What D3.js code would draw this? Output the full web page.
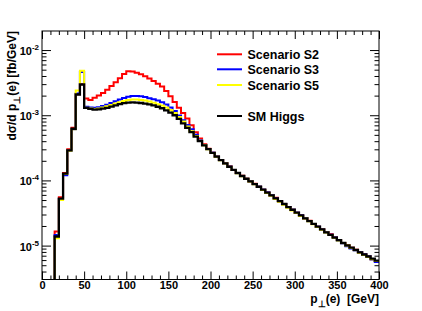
<!DOCTYPE html>
<html><head><meta charset="utf-8">
<script src="https://cdn.jsdelivr.net/npm/d3@7"></script>
<style>
body{margin:0;background:#fff}
svg{display:block}
text{font-family:"Liberation Sans",Arial,Helvetica,sans-serif}
</style>
</head><body>
<svg id="c" width="422" height="311"></svg>
<script>
// ---- data (bins of 5 GeV, low edges 15 .. 395) ----
const binLow = d3.range(15, 400, 5);
const binWidth = 5;

const sm = [
 1.38e-5, 5.25e-5, 1.27e-4, 2.9e-4, 6.2e-4, 2.08e-3, 2.96e-3,
 1.30e-3, 1.25e-3, 1.22e-3, 1.23e-3, 1.26e-3, 1.30e-3, 1.36e-3, 1.42e-3, 1.48e-3, 1.53e-3,
 1.56e-3, 1.57e-3, 1.56e-3, 1.54e-3, 1.51e-3, 1.47e-3, 1.42e-3, 1.35e-3, 1.28e-3,
 1.19e-3, 1.10e-3, 1.0e-3, 8.8e-4, 7.5e-4, 6.4e-4, 5.5e-4, 4.7e-4, 4.0e-4, 3.45e-4, 3.02e-4,
 2.65e-4, 2.32e-4, 2.05e-4, 1.82e-4, 1.62e-4, 1.45e-4, 1.3e-4, 1.17e-4, 1.06e-4, 9.7e-5,
 8.8e-5, 8.0e-5, 7.2e-5, 6.5e-5, 5.9e-5, 5.3e-5, 4.8e-5, 4.35e-5, 3.9e-5, 3.55e-5,
 3.2e-5, 2.9e-5, 2.62e-5, 2.38e-5, 2.15e-5, 1.95e-5, 1.77e-5, 1.6e-5, 1.46e-5, 1.33e-5,
 1.21e-5, 1.1e-5, 1.01e-5, 9.3e-6, 8.6e-6, 7.9e-6, 7.3e-6, 6.8e-6, 6.3e-6, 5.9e-6
];
const s2 = [
 1.65e-5, 5.5e-5, 1.3e-4, 3.0e-4, 6.4e-4, 2.1e-3, 3.0e-3,
 1.80e-3, 1.72e-3, 1.85e-3, 2.0e-3, 2.2e-3, 2.45e-3, 2.8e-3, 3.2e-3, 3.7e-3, 4.3e-3,
 4.75e-3, 4.7e-3, 4.5e-3, 4.25e-3, 3.95e-3, 3.65e-3, 3.35e-3, 3.05e-3, 2.75e-3,
 2.35e-3, 1.95e-3, 1.6e-3, 1.3e-3, 1.08e-3, 8.9e-4, 7.0e-4, 5.5e-4, 4.4e-4, 3.6e-4, 3.05e-4,
 2.66e-4, 2.33e-4, 2.06e-4, 1.83e-4, 1.63e-4, 1.45e-4, 1.3e-4, 1.18e-4, 1.06e-4, 9.7e-5,
 8.9e-5, 8.0e-5, 7.2e-5, 6.5e-5, 5.9e-5, 5.4e-5, 4.8e-5, 4.35e-5, 3.9e-5, 3.55e-5,
 3.2e-5, 2.9e-5, 2.62e-5, 2.4e-5, 2.15e-5, 1.95e-5, 1.78e-5, 1.62e-5, 1.49e-5, 1.36e-5,
 1.22e-5, 1.1e-5, 1.01e-5, 9.3e-6, 8.6e-6, 7.9e-6, 7.3e-6, 6.8e-6, 6.2e-6, 5.8e-6
];
const s3 = [
 1.45e-5, 5.2e-5, 1.2e-4, 2.85e-4, 6.1e-4, 2.15e-3, 4.6e-3,
 1.35e-3, 1.31e-3, 1.30e-3, 1.33e-3, 1.38e-3, 1.45e-3, 1.54e-3, 1.64e-3, 1.74e-3, 1.84e-3,
 1.92e-3, 1.97e-3, 1.98e-3, 1.95e-3, 1.90e-3, 1.83e-3, 1.76e-3, 1.68e-3, 1.58e-3,
 1.46e-3, 1.32e-3, 1.16e-3, 9.9e-4, 8.4e-4, 7.1e-4, 6.1e-4, 5.0e-4, 4.15e-4, 3.5e-4, 3.03e-4,
 2.65e-4, 2.32e-4, 2.05e-4, 1.82e-4, 1.62e-4, 1.45e-4, 1.3e-4, 1.17e-4, 1.05e-4, 9.7e-5,
 8.8e-5, 8.0e-5, 7.2e-5, 6.5e-5, 5.9e-5, 5.3e-5, 4.8e-5, 4.35e-5, 3.9e-5, 3.55e-5,
 3.2e-5, 2.9e-5, 2.62e-5, 2.38e-5, 2.15e-5, 1.95e-5, 1.77e-5, 1.6e-5, 1.47e-5, 1.34e-5,
 1.2e-5, 1.08e-5, 9.8e-6, 9.0e-6, 8.4e-6, 7.9e-6, 7.3e-6, 6.8e-6, 6.1e-6, 5.6e-6
];
const s5 = [
 1.3e-5, 5.0e-5, 1.25e-4, 2.85e-4, 6.1e-4, 2.4e-3, 4.8e-3,
 1.30e-3, 1.27e-3, 1.25e-3, 1.27e-3, 1.31e-3, 1.37e-3, 1.44e-3, 1.51e-3, 1.58e-3, 1.65e-3,
 1.71e-3, 1.74e-3, 1.74e-3, 1.72e-3, 1.68e-3, 1.62e-3, 1.55e-3, 1.48e-3, 1.41e-3,
 1.31e-3, 1.2e-3, 1.08e-3, 9.4e-4, 8.0e-4, 6.7e-4, 5.7e-4, 4.8e-4, 4.05e-4, 3.45e-4, 3.0e-4,
 2.63e-4, 2.3e-4, 2.04e-4, 1.81e-4, 1.61e-4, 1.44e-4, 1.29e-4, 1.16e-4, 1.05e-4, 9.6e-5,
 8.7e-5, 7.9e-5, 7.1e-5, 6.4e-5, 5.8e-5, 5.2e-5, 4.7e-5, 4.25e-5, 3.8e-5, 3.45e-5,
 3.15e-5, 2.85e-5, 2.6e-5, 2.36e-5, 2.13e-5, 1.93e-5, 1.75e-5, 1.59e-5, 1.45e-5, 1.32e-5,
 1.2e-5, 1.09e-5, 1.0e-5, 9.2e-6, 8.5e-6, 7.8e-6, 7.2e-6, 6.7e-6, 6.2e-6, 5.8e-6
];

const seriesNames = ["Scenario S2", "Scenario S3", "Scenario S5", "SM Higgs"];
const seriesValues = [s2, s3, s5, sm];
const seriesColors = ["#ff0000", "#0000ff", "#ffff00", "#000000"];

const xMajorTicks = [0, 50, 100, 150, 200, 250, 300, 350, 400];
const xMinorTicks = d3.range(0, 401, 10).filter(v => v % 50 !== 0);
const yMajorTicks = [1e-5, 1e-4, 1e-3, 1e-2];
const yMajorExp = ["-5", "-4", "-3", "-2"];

// ---- layout ----
const L = 42, R = 379, T = 31, B = 279.5;
const svg = d3.select("#c");
const x = d3.scaleLinear().domain([0, 400]).range([L, R]);
const y = d3.scaleLog().domain([3.02e-6, 0.0196]).range([B, T]);

const yMinorTicks = [];
for (let e = -6; e <= -2; e++) for (let m = 2; m <= 9; m++) {
  const v = m * Math.pow(10, e);
  if (v >= y.domain()[0] && v <= y.domain()[1]) yMinorTicks.push(v);
}

svg.append("clipPath").attr("id", "clip").append("rect")
  .attr("x", L).attr("y", T).attr("width", R - L).attr("height", B - T);

// histograms
const line = d3.line().x(d => x(d[0])).y(d => y(d[1])).curve(d3.curveStepAfter);
seriesValues.forEach((vals, i) => {
  const pts = [[binLow[0], y.domain()[0]]];
  vals.forEach((v, j) => pts.push([binLow[j], v]));
  pts.push([binLow[binLow.length - 1] + binWidth, vals[vals.length - 1]]);
  svg.append("path").attr("clip-path", "url(#clip)")
    .attr("d", line(pts)).attr("fill", "none")
    .attr("stroke", seriesColors[i])
    .attr("stroke-width", i === 3 ? 2.3 : 2)
    .attr("stroke-linejoin", "miter");
});

// axes
function styleAxis(g) {
  g.select(".domain").remove();
  g.selectAll(".tick line").attr("stroke", "#000").attr("stroke-width", 1);
  g.selectAll("text").attr("font-family", "Liberation Sans, Arial, sans-serif")
    .attr("font-size", 11).attr("font-weight", "bold").attr("fill", "#000");
}
svg.append("g").attr("transform", `translate(0,${B})`)
  .call(d3.axisBottom(x).tickValues(xMajorTicks).tickSize(-8).tickPadding(2).tickFormat(d3.format("d")))
  .call(styleAxis);
svg.append("g").attr("transform", `translate(0,${B})`)
  .call(d3.axisBottom(x).tickValues(xMinorTicks).tickSize(-4).tickFormat(""))
  .call(styleAxis);
svg.append("g").attr("transform", `translate(0,${T})`)
  .call(d3.axisTop(x).tickValues(xMajorTicks).tickSize(-8).tickFormat(""))
  .call(styleAxis);
svg.append("g").attr("transform", `translate(0,${T})`)
  .call(d3.axisTop(x).tickValues(xMinorTicks).tickSize(-4).tickFormat(""))
  .call(styleAxis);

svg.append("g").attr("transform", `translate(${L},0)`)
  .call(d3.axisLeft(y).tickValues(yMajorTicks).tickSize(-9).tickFormat(""))
  .call(styleAxis);
svg.append("g").attr("transform", `translate(${L},0)`)
  .call(d3.axisLeft(y).tickValues(yMinorTicks).tickSize(-4.5).tickFormat(""))
  .call(styleAxis);
svg.append("g").attr("transform", `translate(${R},0)`)
  .call(d3.axisRight(y).tickValues(yMajorTicks).tickSize(-9).tickFormat(""))
  .call(styleAxis);
svg.append("g").attr("transform", `translate(${R},0)`)
  .call(d3.axisRight(y).tickValues(yMinorTicks).tickSize(-4.5).tickFormat(""))
  .call(styleAxis);

// y labels 10^n
yMajorTicks.forEach((v, i) => {
  const t = svg.append("text").attr("x", 39).attr("y", y(v) + 5)
    .attr("text-anchor", "end").attr("font-size", 11).attr("font-weight", "bold");
  t.append("tspan").text("10");
  t.append("tspan").attr("dy", -5).attr("font-size", 8).text(yMajorExp[i]);
});

// frame
svg.append("rect").attr("x", L).attr("y", T).attr("width", R - L).attr("height", B - T)
  .attr("fill", "none").attr("stroke", "#000").attr("stroke-width", 1);

// axis titles
const xt = svg.append("text").attr("x", R).attr("y", 303).attr("text-anchor", "end")
  .attr("font-size", 12).attr("font-weight", "bold");
xt.append("tspan").text("p");
xt.append("tspan").attr("dy", 4).attr("font-size", 9).text("⊥");
xt.append("tspan").attr("dy", -4).text("(e)\u00a0\u00a0[GeV]");

const yt = svg.append("text").attr("transform", `translate(16,${T}) rotate(-90)`)
  .attr("text-anchor", "end").attr("font-size", 12).attr("font-weight", "bold");
yt.append("tspan").text("dσ/d p");
yt.append("tspan").attr("dy", 4).attr("font-size", 9).text("⊥");
yt.append("tspan").attr("dy", -4).text("(e) [fb/GeV]");

// legend
const legendY = [54.3, 69.3, 85, 116];
seriesNames.forEach((n, i) => {
  svg.append("line").attr("x1", 217).attr("x2", 242)
    .attr("y1", legendY[i]).attr("y2", legendY[i])
    .attr("stroke", seriesColors[i]).attr("stroke-width", 2);
  svg.append("text").attr("x", 247.5).attr("y", legendY[i] + 4.5)
    .attr("font-size", 12.5).attr("font-weight", "bold").text(n);
});
</script>
</body></html>
